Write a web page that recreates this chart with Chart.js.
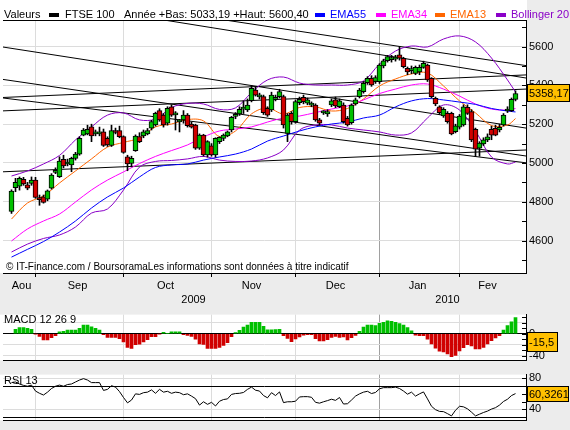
<!DOCTYPE html>
<html>
<head>
<meta charset="utf-8">
<script src="https://cdn.jsdelivr.net/npm/chart.js@4.4.0/dist/chart.umd.min.js"></script>
<style>
  html, body { margin: 0; padding: 0; background: #ececec; }
  #wrap { position: relative; width: 570px; height: 430px; overflow: hidden; }
  canvas { position: absolute; left: 0; }
</style>
</head>
<body>
<div id="wrap">
  <canvas id="cMain" width="570" height="309" style="top:0px"></canvas>
  <canvas id="cMacd" width="570" height="65" style="top:305px"></canvas>
  <canvas id="cRsi" width="570" height="65" style="top:365px"></canvas>
</div>
<script>
// mois et années (indice de la première séance)
const monthNames = ['Aou', 'Sep', 'Oct', 'Nov', 'Dec', 'Jan', 'Fev'];
const monthStarts = [0, 6, 28, 50, 71, 92, 112];
const yearNames = ['2009', '2010'];
const yearStarts = [0, 92];
const yearLow = 5033.19, yearHigh = 5600.40;

// FTSE 100 - séances (ouverture, plus haut, plus bas, clôture)
const opens = [4750,4873,4880,4916,4887,4895,4912,4815,4826,4813,
  4870,4952,4929,5019,4995,4990,5024,5046,5144,5150,
  5187,5150,5150,5161,5127,5090,5160,5167,5136,5032,
  4998,5063,5136,5139,5150,5179,5196,5270,5247,5205,
  5290,5248,5212,5222,5247,5200,5196,5076,5144,5041,
  5088,5041,5110,5127,5140,5170,5240,5253,5278,5273,
  5321,5376,5341,5342,5282,5273,5328,5342,5342,5153,
  5256,5213,5311,5339,5308,5298,5299,5222,5258,5253,
  5299,5325,5290,5299,5230,5208,5304,5342,5368,5414,
  5437,5420,5419,5500,5527,5533,5535,5557,5540,5488,
  5476,5462,5470,5493,5505,5437,5333,5290,5242,5256,
  5256,5161,5184,5196,5287,5265,5174,5076,5098,5119,
  5174,5179,5170,5196,5268,5270,5328];
const highs = [4862,4921,4928,4926,4900,4928,4926,4835,4835,4861,
  4945,4975,5032,5040,5020,5030,5055,5135,5178,5195,
  5200,5170,5185,5175,5135,5195,5180,5190,5140,5040,
  5035,5145,5156,5170,5178,5220,5262,5280,5255,5290,
  5300,5265,5225,5270,5255,5210,5200,5150,5148,5115,
  5100,5130,5135,5150,5165,5240,5260,5290,5320,5330,
  5400,5395,5360,5350,5290,5365,5350,5380,5350,5255,
  5265,5325,5340,5350,5335,5315,5305,5230,5270,5275,
  5330,5340,5330,5310,5240,5305,5335,5385,5420,5445,
  5450,5450,5512,5535,5555,5555,5555,5600.40,5545,5495,
  5500,5500,5505,5525,5510,5440,5340,5295,5285,5265,
  5262,5200,5250,5300,5300,5275,5180,5110,5130,5150,
  5190,5195,5200,5255,5290,5335,5372];
const lows = [4740,4852,4860,4885,4862,4885,4818,4782,4793,4805,
  4865,4945,4925,4975,4985,4955,5015,5040,5140,5145,
  5110,5140,5140,5085,5085,5085,5150,5130,5050,4960,
  4980,5060,5105,5130,5145,5170,5190,5215,5185,5195,
  5240,5170,5160,5205,5185,5180,5070,5070,5035,5030,
  5035,5030,5100,5115,5135,5160,5228,5245,5255,5265,
  5315,5345,5330,5250,5240,5265,5320,5335,5180,5110,
  5200,5205,5300,5305,5300,5290,5215,5195,5250,5240,
  5290,5285,5285,5205,5190,5200,5298,5335,5360,5405,
  5395,5410,5410,5490,5520,5520,5525,5530,5490,5455,
  5460,5455,5455,5488,5420,5335,5295,5250,5235,5205,
  5145,5155,5175,5190,5250,5110,5033.19,5035,5090,5110,
  5120,5140,5160,5190,5260,5265,5320];
const closes = [4855,4900,4921,4892,4870,4912,4823,4811,4797,4856,
  4938,4955,5010,4985,5005,5024,5046,5127,5170,5174,
  5139,5153,5152,5090,5093,5167,5157,5136,5055,4995,
  5024,5139,5110,5161,5167,5213,5256,5222,5196,5282,
  5247,5252,5215,5247,5192,5185,5076,5144,5041,5110,
  5041,5127,5132,5144,5160,5235,5243,5277,5281,5299,
  5385,5350,5343,5259,5247,5350,5331,5368,5196,5247,
  5213,5316,5328,5316,5325,5301,5222,5205,5261,5265,
  5320,5294,5321,5213,5196,5299,5325,5376,5411,5437,
  5402,5440,5505,5527,5548,5536,5545,5540,5496,5470,
  5478,5493,5493,5514,5428,5342,5304,5259,5277,5213,
  5150,5191,5242,5290,5256,5119,5071,5102,5119,5135,
  5144,5144,5184,5247,5271,5328,5358.17];

// moyennes lues toutes les 4 séances
const sampleIdx = [0,4,8,12,16,20,24,28,32,36,40,44,48,52,56,60,64,68,72,76,80,84,88,92,96,100,104,108,112,116,120,124,126];
const ema55 = [4515,4555,4595,4644,4701,4768,4825,4871,4928,4977,4990,4995,5015,5031,5046,5072,5113,5139,5165,5186,5201,5211,5232,5247,5289,5320,5332,5325,5314,5302,5281,5268,5263];
const ema34 = [4598,4660,4701,4737,4799,4861,4912,4954,4997,5034,5064,5093,5134,5165,5175,5186,5211,5232,5242,5260,5278,5294,5325,5358,5381,5402,5407,5381,5345,5304,5278,5273,5281];
const ema13 = [4711,4794,4830,4897,4959,5021,5082,5106,5129,5186,5201,5224,5217,5136,5165,5253,5284,5253,5286,5289,5268,5281,5330,5397,5433,5459,5464,5397,5320,5258,5193,5196,5229];
const bollUp = [4933,4959,4995,5039,5119,5186,5247,5258,5222,5227,5286,5307,5304,5276,5284,5363,5428,5443,5412,5402,5402,5402,5423,5510,5577,5603,5598,5639,5655,5624,5541,5428,5366];
const bollLow = [4541,4582,4611,4629,4670,4742,4763,4861,4979,5008,5013,5021,5034,5015,5008,5010,5026,5067,5170,5196,5196,5180,5170,5160,5144,5155,5232,5299,5273,5165,5031,4995,5005];

// droites de tendance [séance début, valeur, séance fin, valeur]
const trendLines = [
  [-2.875, 5600, 128.625, 5180],
  [38.125, 5737, 128.625, 5438],
  [53.375, 5737, 128.625, 5502],
  [-2.875, 5337, 128.625, 5454],
  [-2.875, 5268, 128.625, 5381],
  [-2.875, 5433, 128.625, 5036],
  [-2.875, 4954, 128.625, 5067],
  [-2.875, 5337, 128.625, 5001]
];

// MACD 12 26 9 (histogramme) et RSI 13
const macdHist = [null,8.2,11.3,11.3,9.8,8.2,-0.5,-4.6,-11.3,-11.3,
  -7.2,-3.6,3.6,4.6,6.7,6.7,6.7,9.8,16,16,
  12.8,9.8,6.7,-1.5,-6.7,-6.7,-6.7,-8.7,-14.9,-25,
  -26.7,-20,-19,-14.9,-10.8,-5.1,-5.1,-0.5,2.6,0.5,
  3.6,3.6,3.6,-1.5,-3,-4.6,-9.8,-18.5,-19.5,-26.7,
  -26.7,-26.7,-24.7,-21,-16,-5.1,2,6.2,12.3,16,
  21,21,21,13.4,7.2,7.2,7.7,8.2,-3.6,-8.2,
  -14.4,-9.2,-5.6,-2.6,-1.5,-1.5,-8.7,-12.8,-12.8,-10.8,
  -6.7,-4.6,-6.7,-5.6,-11.3,-7.2,-3,4.6,12.3,16,
  16,14.9,19,21,23.6,22.6,21,18.5,16,11.3,
  5.6,-2.6,-3.6,-3.6,-9.8,-18.5,-26.2,-31.8,-32.9,-36.5,
  -41.6,-39.5,-31.3,-25.2,-20,-22.1,-27.7,-27.7,-24.7,-18.5,
  -12.3,-7.7,-3.6,6.7,14.9,21.6,29.3];
const macdLast = -15.5;
const rsi = [74.5,75.3,72.7,70.9,69.8,71.3,63.6,60.7,58.5,62.2,
  66.9,69.8,71.3,69.8,72,72.7,75.3,77.8,79.6,77.8,
  74.5,74.5,74.5,64.4,65.8,70.5,68.7,62.9,55.3,48.4,
  52,60,59.3,61.5,62.2,65.1,60.7,65.8,62.2,63.3,
  60.7,62.2,61.5,58.9,60,57.1,53.8,45.5,49.8,46.5,
  49.1,44.4,50.5,52.7,53.5,59.3,60.4,60.7,61.8,65.8,
  68.7,64.7,63.6,57.8,54.9,61.5,57.8,62.5,48.7,49.8,
  49.8,50.5,56,56.4,56.4,55.6,49.1,48,49.8,51.3,
  53.1,51.6,55.3,46.9,47.3,52,57.1,60,62.2,63.3,
  60.4,61.8,66.5,68,68,68,68.7,66.9,63.6,59.6,
  62.2,57.1,60,62.5,53.5,44,39.6,37.4,37.1,34.5,
  31.6,38.9,44,43.3,40.7,36.4,31.6,33.8,36,37.8,
  40.4,42.2,45.5,50.2,53.1,57.8,60.3261];

const FONT = '"Liberation Sans", Arial, sans-serif';
const X_MIN = -2.125, X_MAX = 128.625;
const VERT = '#00c000', ROUGE = '#d00000';

function fmt(v, d) { return v.toFixed(d).replace('.', ','); }

function xAxis(h, ticks) {
  return {
    type: 'linear', min: X_MIN, max: X_MAX, offset: false,
    afterBuildTicks: s => { s.ticks = monthStarts.slice(1).map(v => ({ value: v })); },
    afterFit: s => { s.height = h; },
    ticks: { display: false, autoSkip: false },
    grid: {
      offset: false,
      color: c => (c.tick && c.tick.value === yearStarts[1]) ? '#a0a0a0' : '#dcdcdc',
      drawTicks: ticks, tickLength: 4, tickColor: '#000'
    },
    border: { display: true, color: '#000' }
  };
}

// graduations posées à la main : pas fixe entre min et max
function yAxis(min, max, step, labelFn, gridFn) {
  return {
    position: 'right', min: min, max: max,
    afterBuildTicks: s => {
      const t = [];
      for (let v = Math.ceil(min / step) * step; v <= max; v += step) t.push({ value: v });
      s.ticks = t;
    },
    afterFit: s => { s.width = 44; },
    ticks: { autoSkip: false, padding: 3, color: '#000',
             font: { family: FONT, size: 11 }, callback: v => labelFn(Math.round(v)) },
    grid: { drawTicks: false, color: c => gridFn(c.tick ? Math.round(c.tick.value) : null) },
    border: { display: true, color: '#000' }
  };
}

function innerTicks(chart) {
  const { ctx, chartArea: a, scales: { y } } = chart;
  ctx.strokeStyle = '#000';
  ctx.lineWidth = 1;
  y.ticks.forEach(t => {
    const py = Math.round(y.getPixelForValue(t.value)) + 0.5;
    ctx.beginPath(); ctx.moveTo(a.right - 4, py); ctx.lineTo(a.right, py); ctx.stroke();
  });
}

function drawBox(ctx, x, yc, w, h, text) {
  const top = Math.round(yc - h / 2);
  ctx.fillStyle = '#ffc000';
  ctx.fillRect(x, top, w, h);
  ctx.strokeStyle = '#000';
  ctx.lineWidth = 1;
  ctx.strokeRect(x + 0.5, top + 0.5, w - 1, h - 1);
  ctx.fillStyle = '#000';
  ctx.font = '11px ' + FONT;
  ctx.textAlign = 'left';
  ctx.textBaseline = 'middle';
  ctx.fillText(text, x + 2, top + h / 2 + 1);
}

function whiteBg(chart) {
  const { ctx, chartArea: a } = chart;
  ctx.save();
  ctx.fillStyle = '#fff';
  ctx.fillRect(0, a.top, a.right + 1, a.bottom - a.top);
  ctx.restore();
}

const baseOpts = {
  responsive: false,
  animation: false,
  events: [],
  plugins: { legend: { display: false }, tooltip: { enabled: false } }
};

// ---------------- graphique principal ----------------
const idx = opens.map((o, i) => i);
const pts = arr => arr.map((v, k) => ({ x: sampleIdx[k], y: v }));
const lineDs = (data, color, order) => ({
  type: 'line', data: data, borderColor: color, borderWidth: 1, pointRadius: 0,
  tension: 0.35, fill: false, order: order
});

const mainDatasets = [];
trendLines.forEach(t => {
  mainDatasets.push({
    type: 'line', data: [{ x: t[0], y: t[1] }, { x: t[2], y: t[3] }],
    borderColor: '#000', borderWidth: 1, pointRadius: 0, tension: 0, order: 6
  });
});
mainDatasets.push(lineDs(pts(bollUp), '#8a00c8', 5));
mainDatasets.push(lineDs(pts(bollLow), '#8a00c8', 5));
mainDatasets.push(lineDs(pts(ema55), '#0000ff', 4));
mainDatasets.push(lineDs(pts(ema34), '#ff00ff', 4));
mainDatasets.push(lineDs(pts(ema13), '#ff6600', 4));
mainDatasets.push({
  type: 'bar', data: idx.map(i => ({ x: i, y: [lows[i], highs[i]] })),
  backgroundColor: '#000', barThickness: 1, grouped: false, order: 2
});
mainDatasets.push({
  type: 'bar', data: idx.map(i => ({ x: i, y: [opens[i], closes[i]] })),
  backgroundColor: idx.map(i => closes[i] >= opens[i] ? VERT : ROUGE),
  borderColor: '#000', borderWidth: 1, borderSkipped: false, minBarLength: 2,
  barThickness: 5, grouped: false, order: 1
});

const mainPanel = {
  id: 'mainPanel',
  beforeDraw(chart) {
    const { ctx, chartArea: a } = chart;
    ctx.save();
    ctx.fillStyle = '#fff';
    ctx.fillRect(0, 0, a.right + 1, a.bottom);
    ctx.restore();
  },
  afterDraw(chart) {
    const { ctx, chartArea: a, scales } = chart;
    ctx.save();
    ctx.strokeStyle = '#000';
    ctx.lineWidth = 1;
    ctx.beginPath(); ctx.moveTo(a.left, a.top + 0.5); ctx.lineTo(a.right, a.top + 0.5); ctx.stroke();
    innerTicks(chart);

    // légende du haut
    ctx.font = '11px ' + FONT;
    ctx.textBaseline = 'alphabetic';
    ctx.textAlign = 'left';
    ctx.fillStyle = '#000';
    ctx.fillText('Valeurs', 4, 18);
    ctx.fillRect(49, 13, 10, 4);
    ctx.fillText('FTSE 100', 65, 18);
    ctx.fillText('Année +Bas: ' + fmt(yearLow, 2) + ' +Haut: ' + fmt(yearHigh, 2), 124, 18);
    [['EMA55', '#0000ff', 315], ['EMA34', '#ff00ff', 376], ['EMA13', '#ff6600', 435], ['Bollinger 20', '#8a00c8', 496]]
      .forEach(([t, c, x]) => {
        ctx.fillStyle = c;
        ctx.fillRect(x, 13, 10, 4);
        ctx.fillText(t, x + 15, 18);
      });

    ctx.fillStyle = '#000';
    ctx.font = '10px ' + FONT;
    ctx.fillText('© IT-Finance.com / BoursoramaLes informations sont données à titre indicatif', 6, 270);

    // mois et années
    ctx.font = '11px ' + FONT;
    ctx.textAlign = 'center';
    monthNames.forEach((m, k) => {
      const end = k + 1 < monthStarts.length ? monthStarts[k + 1] - 1 : opens.length - 1;
      ctx.fillText(m, scales.x.getPixelForValue((monthStarts[k] + end) / 2), 289);
    });
    yearNames.forEach((y, k) => {
      const end = k + 1 < yearStarts.length ? yearStarts[k + 1] - 1 : opens.length - 1;
      ctx.fillText(y, scales.x.getPixelForValue((yearStarts[k] + end) / 2), 303);
    });

    const last = closes[closes.length - 1];
    drawBox(ctx, a.right + 1, scales.y.getPixelForValue(last), 43, 18, fmt(last, 2));
    ctx.restore();
  }
};

new Chart(document.getElementById('cMain'), {
  type: 'bar',
  data: { datasets: mainDatasets },
  options: Object.assign({}, baseOpts, {
    layout: { padding: { left: 3, top: 20, right: 0, bottom: 0 } },
    scales: {
      x: xAxis(36, true),
      y: yAxis(4433, 5737, 100,
        v => (v % 200 === 0 ? String(v) : ''),
        v => (v !== null && v % 200 === 0) ? '#dcdcdc' : 'rgba(0,0,0,0)')
    }
  }),
  plugins: [mainPanel]
});

// ---------------- MACD ----------------
const macdPanel = {
  id: 'macdPanel',
  beforeDraw: whiteBg,
  afterDraw(chart) {
    const { ctx, chartArea: a, scales } = chart;
    ctx.save();
    innerTicks(chart);
    ctx.fillStyle = '#000';
    ctx.font = '11px ' + FONT;
    ctx.textAlign = 'left';
    ctx.textBaseline = 'alphabetic';
    ctx.fillText('MACD 12 26 9', 4, 18);
    drawBox(ctx, a.right + 1, scales.y.getPixelForValue(macdLast), 31, 20, fmt(macdLast, 1));
    ctx.restore();
  }
};

new Chart(document.getElementById('cMacd'), {
  type: 'bar',
  data: {
    datasets: [{
      data: idx.map(i => ({ x: i, y: macdHist[i] })),
      backgroundColor: idx.map(i => macdHist[i] >= 0 ? VERT : ROUGE),
      barThickness: 3
    }]
  },
  options: Object.assign({}, baseOpts, {
    layout: { padding: { left: 3, top: 4, right: 0, bottom: 2 } },
    scales: {
      x: xAxis(0, false),
      y: yAxis(-48.4, 34.9, 10,
        v => (v % 40 === 0 ? String(v) : ''),
        v => v === 0 ? '#000' : (v !== null && v % 20 === 0 ? '#dcdcdc' : 'rgba(0,0,0,0)'))
    }
  }),
  plugins: [macdPanel]
});

// ---------------- RSI ----------------
const rsiPanel = {
  id: 'rsiPanel',
  beforeDraw: whiteBg,
  afterDraw(chart) {
    const { ctx, chartArea: a, scales } = chart;
    ctx.save();
    innerTicks(chart);
    ctx.fillStyle = '#000';
    ctx.font = '11px ' + FONT;
    ctx.textAlign = 'left';
    ctx.textBaseline = 'alphabetic';
    ctx.fillText('RSI 13', 4, 19);
    const last = rsi[rsi.length - 1];
    drawBox(ctx, a.right + 1, scales.y.getPixelForValue(last), 42, 16, fmt(last, 4));
    ctx.restore();
  }
};

new Chart(document.getElementById('cRsi'), {
  type: 'line',
  data: {
    datasets: [{
      data: idx.map(i => ({ x: i, y: rsi[i] })),
      borderColor: '#000', borderWidth: 1, pointRadius: 0, tension: 0, fill: false
    }]
  },
  options: Object.assign({}, baseOpts, {
    layout: { padding: { left: 3, top: 5, right: 0, bottom: 1 } },
    scales: {
      x: xAxis(0, false),
      y: yAxis(25.8, 84.8, 10,
        v => (v % 20 === 0 ? String(v) : ''),
        v => (v === 70 || v === 30) ? '#000' : ((v === 80 || v === 40) ? '#dcdcdc' : 'rgba(0,0,0,0)'))
    }
  }),
  plugins: [rsiPanel]
});
</script>
</body>
</html>
